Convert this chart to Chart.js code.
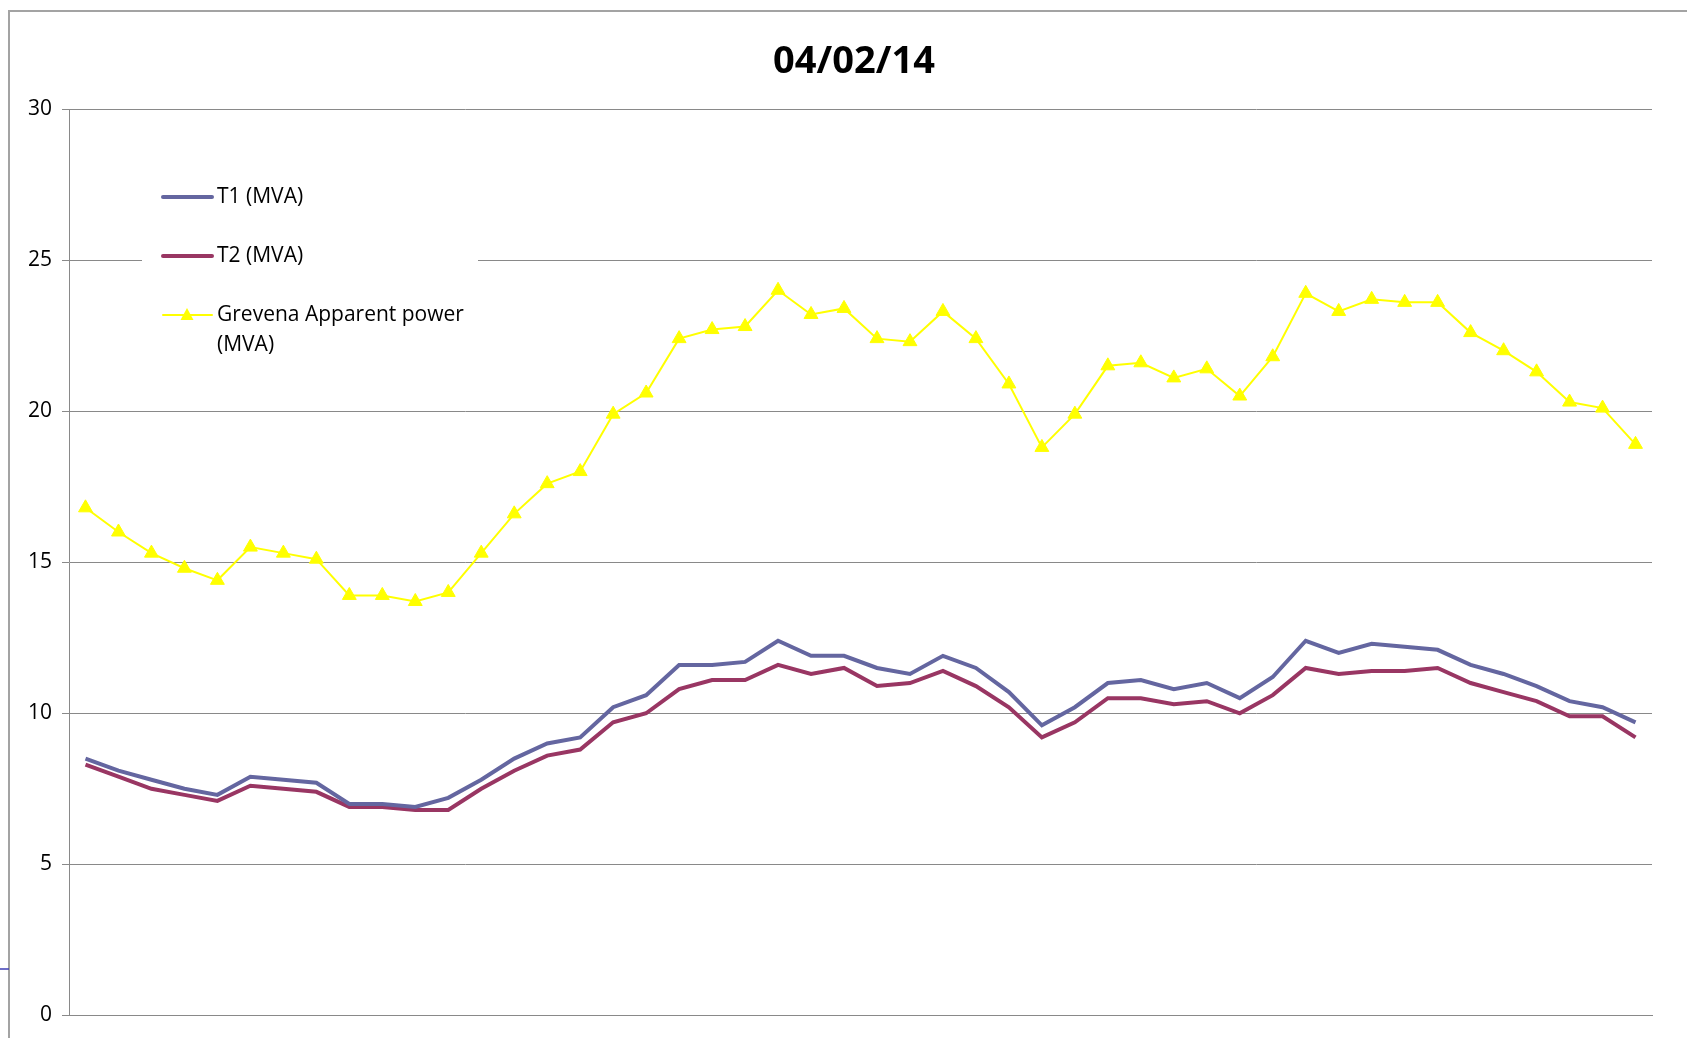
<!DOCTYPE html>
<html lang="en">
<head>
<meta charset="UTF-8">
<title>04/02/14</title>
<script src="https://cdn.jsdelivr.net/npm/chart.js"></script>
<style>
  html, body { margin: 0; padding: 0; background: #fff; }
  #wrap { width: 1687px; height: 1038px; }
</style>
</head>
<body>
<div id="wrap"><canvas id="myChart" width="1687" height="1038"></canvas></div>
<script>
// half-hour steps of the day (not shown on the axis)
const horas = ["00:30","01:00","01:30","02:00","02:30","03:00","03:30","04:00","04:30","05:00","05:30","06:00",
  "06:30","07:00","07:30","08:00","08:30","09:00","09:30","10:00","10:30","11:00","11:30","12:00",
  "12:30","13:00","13:30","14:00","14:30","15:00","15:30","16:00","16:30","17:00","17:30","18:00",
  "18:30","19:00","19:30","20:00","20:30","21:00","21:30","22:00","22:30","23:00","23:30","24:00"];

const t1 = [8.5, 8.1, 7.8, 7.5, 7.3, 7.9, 7.8, 7.7, 7.0, 7.0, 6.9, 7.2,
  7.8, 8.5, 9.0, 9.2, 10.2, 10.6, 11.6, 11.6, 11.7, 12.4, 11.9, 11.9,
  11.5, 11.3, 11.9, 11.5, 10.7, 9.6, 10.2, 11.0, 11.1, 10.8, 11.0, 10.5,
  11.2, 12.4, 12.0, 12.3, 12.2, 12.1, 11.6, 11.3, 10.9, 10.4, 10.2, 9.7];

const t2 = [8.3, 7.9, 7.5, 7.3, 7.1, 7.6, 7.5, 7.4, 6.9, 6.9, 6.8, 6.8,
  7.5, 8.1, 8.6, 8.8, 9.7, 10.0, 10.8, 11.1, 11.1, 11.6, 11.3, 11.5,
  10.9, 11.0, 11.4, 10.9, 10.2, 9.2, 9.7, 10.5, 10.5, 10.3, 10.4, 10.0,
  10.6, 11.5, 11.3, 11.4, 11.4, 11.5, 11.0, 10.7, 10.4, 9.9, 9.9, 9.2];

const grevena = [16.8, 16.0, 15.3, 14.8, 14.4, 15.5, 15.3, 15.1, 13.9, 13.9, 13.7, 14.0,
  15.3, 16.6, 17.6, 18.0, 19.9, 20.6, 22.4, 22.7, 22.8, 24.0, 23.2, 23.4,
  22.4, 22.3, 23.3, 22.4, 20.9, 18.8, 19.9, 21.5, 21.6, 21.1, 21.4, 20.5,
  21.8, 23.9, 23.3, 23.7, 23.6, 23.6, 22.6, 22.0, 21.3, 20.3, 20.1, 18.9];

const yTicks = [0, 5, 10, 15, 20, 25, 30];

const fonte = "'Open Sans', 'Noto Sans', sans-serif";

// moldura, titulo e legenda desenhados a mao (estilo Excel)
const extras = {
  id: "extras",
  beforeDraw(chart) {
    const ctx = chart.ctx;
    ctx.save();
    ctx.fillStyle = "#fff";
    ctx.fillRect(0, 0, chart.width, chart.height);
    ctx.strokeStyle = "#a3a3a3";
    ctx.lineWidth = 2;
    ctx.beginPath();
    ctx.moveTo(9, 1038);
    ctx.lineTo(9, 11);
    ctx.lineTo(1687, 11);
    ctx.stroke();
    ctx.strokeStyle = "#3c3cb4";
    ctx.lineWidth = 1.5;
    ctx.beginPath();
    ctx.moveTo(0, 969);
    ctx.lineTo(9, 969);
    ctx.stroke();
    ctx.restore();
  },
  afterDatasetsDraw(chart) {
    const ctx = chart.ctx;
    const ds = chart.data.datasets;
    ctx.save();
    // titulo
    ctx.fillStyle = "#000";
    ctx.font = "bold 38px " + fonte;
    ctx.textAlign = "center";
    ctx.textBaseline = "middle";
    ctx.fillText("04/02/14", 854, 62);

    // caixa da legenda
    ctx.fillStyle = "#fff";
    ctx.fillRect(142, 165, 336, 200);
    const linhas = [197, 256, 315];
    ctx.font = "21px " + fonte;
    ctx.textAlign = "left";
    ds.forEach(function (d, i) {
      const y = linhas[i];
      ctx.strokeStyle = d.borderColor;
      ctx.lineWidth = d.borderWidth;
      ctx.lineCap = "round";
      ctx.beginPath();
      ctx.moveTo(163, y);
      ctx.lineTo(212, y);
      ctx.stroke();
      if (d.pointStyle === "triangle") {
        ctx.fillStyle = d.pointBackgroundColor;
        ctx.beginPath();
        ctx.moveTo(187, y - 7);
        ctx.lineTo(193.5, y + 5);
        ctx.lineTo(180.5, y + 5);
        ctx.closePath();
        ctx.fill();
      }
      ctx.fillStyle = "#000";
      const partes = Array.isArray(d.label) ? d.label : [d.label];
      partes.forEach(function (p, k) {
        ctx.fillText(p, 217, y + k * 30);
      });
    });
    ctx.restore();
  }
};

const config = {
  type: "line",
  data: {
    labels: horas,
    datasets: [
      {
        label: "T1 (MVA)",
        data: t1,
        borderColor: "#6466a0",
        borderWidth: 4,
        pointRadius: 0,
        tension: 0
      },
      {
        label: "T2 (MVA)",
        data: t2,
        borderColor: "#993663",
        borderWidth: 4,
        pointRadius: 0,
        tension: 0
      },
      {
        label: ["Grevena Apparent power", "(MVA)"],
        data: grevena,
        borderColor: "#ffff00",
        borderWidth: 2,
        pointStyle: "triangle",
        pointRadius: 8,
        pointBackgroundColor: "#ffff00",
        pointBorderColor: "#ffff00",
        pointBorderWidth: 1,
        tension: 0
      }
    ]
  },
  options: {
    responsive: false,
    animation: false,
    devicePixelRatio: 1,
    layout: { padding: { left: 9, right: 35, top: 109, bottom: 21 } },
    plugins: {
      legend: { display: false },
      title: { display: false },
      tooltip: { enabled: false }
    },
    scales: {
      x: {
        offset: true,
        ticks: { display: false },
        grid: { display: false, drawTicks: false },
        border: { display: true, color: "#898989", width: 1 }
      },
      y: {
        min: 0,
        max: 30,
        afterBuildTicks(scale) {
          scale.ticks = yTicks.map(v => ({ value: v }));
        },
        afterFit(scale) { scale.width = 60; },
        ticks: {
          color: "#000",
          padding: 10,
          font: { family: fonte, size: 21 }
        },
        grid: { color: "#898989", lineWidth: 1, tickLength: 7 },
        border: { display: true, color: "#898989", width: 1 }
      }
    }
  },
  plugins: [extras]
};

var myChart = new Chart(document.getElementById("myChart"), config);
</script>
</body>
</html>
